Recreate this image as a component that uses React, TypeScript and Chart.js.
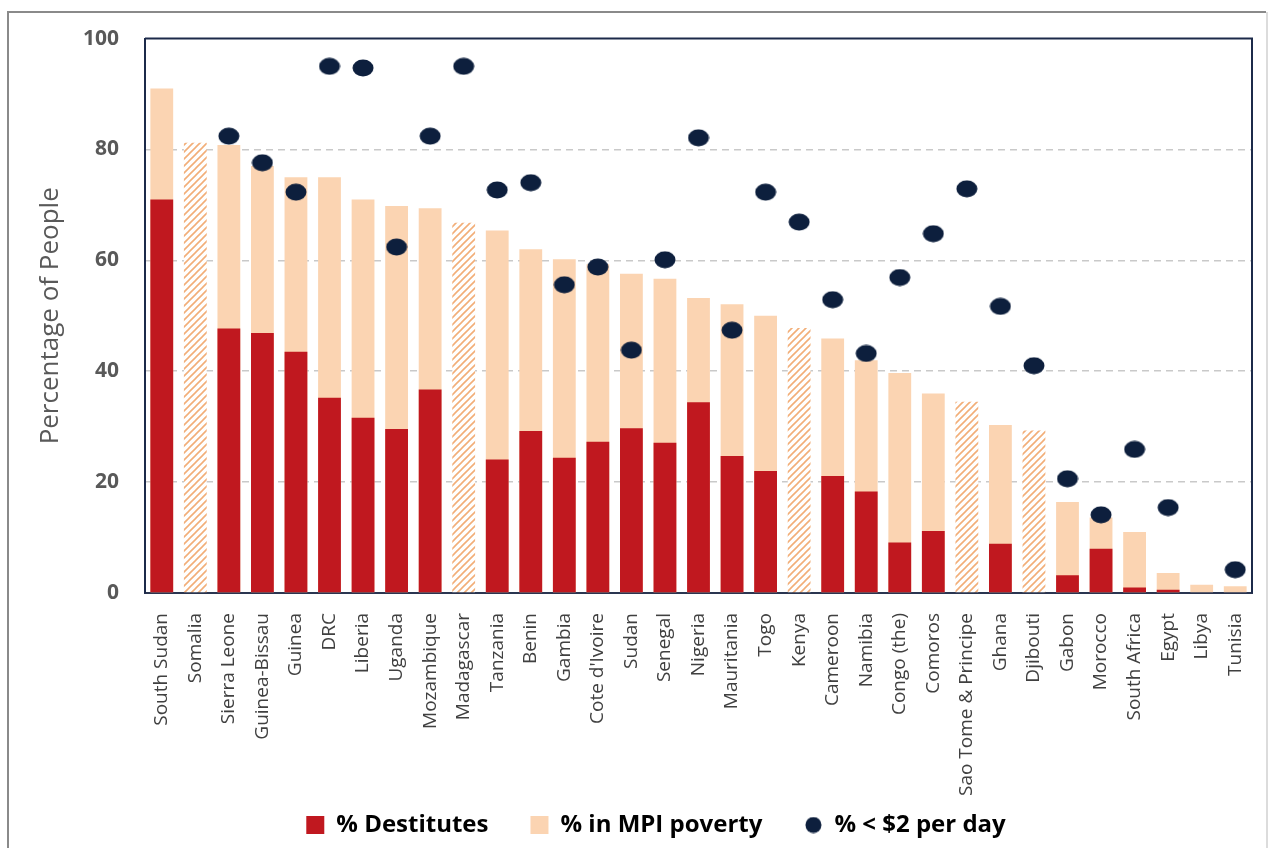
import React, { useEffect, useRef } from 'react';
import { Chart, registerables } from 'chart.js';

Chart.register(...registerables);

const categories = [
  'South Sudan', 'Somalia', 'Sierra Leone', 'Guinea-Bissau', 'Guinea', 'DRC', 'Liberia', 'Uganda',
  'Mozambique', 'Madagascar', 'Tanzania', 'Benin', 'Gambia', "Cote d'Ivoire", 'Sudan', 'Senegal',
  'Nigeria', 'Mauritania', 'Togo', 'Kenya', 'Cameroon', 'Namibia', 'Congo (the)', 'Comoros',
  'Sao Tome & Principe', 'Ghana', 'Djibouti', 'Gabon', 'Morocco', 'South Africa', 'Egypt', 'Libya', 'Tunisia',
];

const destitutes = [
  71.0, null, 47.7, 46.9, 43.5, 35.2, 31.6, 29.6, 36.7, null, 24.1, 29.2, 24.4, 27.3, 29.7, 27.1,
  34.4, 24.7, 22.0, null, 21.1, 18.3, 9.1, 11.2, null, 8.9, null, 3.2, 8.0, 1.0, 0.6, 0, 0,
];

const mpiPoverty = [
  91.0, 81.2, 80.8, 77.0, 75.0, 75.0, 71.0, 69.8, 69.4, 66.8, 65.4, 62.0, 60.2, 59.3, 57.6, 56.7,
  53.2, 52.1, 50.0, 47.8, 45.9, 42.0, 39.7, 36.0, 34.5, 30.3, 29.3, 16.4, 13.6, 11.0, 3.6, 1.5, 1.2,
];

const under2PerDay = [
  null, null, 82.4, 77.6, 72.3, 95.0, 94.7, 62.4, 82.4, 95.0, 72.7, 74.0, 55.6, 58.8, 43.8, 60.1,
  82.1, 47.4, 72.3, 66.9, 52.9, 43.2, 56.9, 64.8, 72.9, 51.7, 41.0, 20.6, 14.1, 25.9, 15.4, null, 4.2,
];

const hatchedCountries = ['Somalia', 'Madagascar', 'Kenya', 'Sao Tome & Principe', 'Djibouti'];

const yTickValues = [0, 20, 40, 60, 80, 100];

const seriesLabels = ['% Destitutes', '% in MPI poverty', '% < $2 per day'];

const RED = '#c0181f';
const PEACH = '#fbd4b2';
const STRIPE = '#f2ae78';
const NAVY = '#0d1f3d';
const FONT = "'Open Sans', sans-serif";

function makeHatch(): CanvasPattern {
  const c = document.createElement('canvas');
  c.width = 7;
  c.height = 7;
  const g = c.getContext('2d')!;
  g.fillStyle = '#ffffff';
  g.fillRect(0, 0, 7, 7);
  g.strokeStyle = STRIPE;
  g.lineWidth = 1.6;
  g.beginPath();
  g.moveTo(-1, 8);
  g.lineTo(8, -1);
  g.moveTo(-1, 1);
  g.lineTo(1, -1);
  g.moveTo(6, 8);
  g.lineTo(8, 6);
  g.stroke();
  return g.createPattern(c, 'repeat')!;
}

function makeDot(w: number, h: number): HTMLCanvasElement {
  const c = document.createElement('canvas');
  c.width = w;
  c.height = h;
  const g = c.getContext('2d')!;
  g.fillStyle = NAVY;
  g.beginPath();
  g.ellipse(w / 2, h / 2, w / 2 - 0.5, h / 2 - 0.5, 0, 0, Math.PI * 2);
  g.fill();
  return c;
}

const framePlugin = {
  id: 'frame',
  afterLayout(chart: any) {
    // let the rotated category labels use the space down to the legend
    const x = chart.scales.x;
    if (x) x.bottom = chart.height;
    const lg = chart.legend;
    if (lg) {
      lg.left += 15;
      lg.right += 15;
    }
  },
  beforeDraw(chart: any) {
    const { ctx } = chart;
    ctx.save();
    ctx.fillStyle = '#ffffff';
    ctx.fillRect(0, 0, chart.width, chart.height);
    ctx.strokeStyle = '#8a8a8a';
    ctx.lineWidth = 2;
    ctx.beginPath();
    ctx.moveTo(8, chart.height + 5);
    ctx.lineTo(8, 12);
    ctx.lineTo(1266, 12);
    ctx.stroke();
    ctx.strokeStyle = '#dcdcdc';
    ctx.beginPath();
    ctx.moveTo(1267, 12);
    ctx.lineTo(1267, chart.height + 5);
    ctx.stroke();
    ctx.restore();
  },
  afterDraw(chart: any) {
    const { ctx, chartArea: a } = chart;
    ctx.save();
    ctx.strokeStyle = '#1c2a4a';
    ctx.lineWidth = 2;
    ctx.beginPath();
    ctx.moveTo(a.left, a.top);
    ctx.lineTo(a.right, a.top);
    ctx.lineTo(a.right, a.bottom);
    ctx.stroke();
    ctx.restore();
  },
};

export default function App() {
  const canvasRef = useRef<HTMLCanvasElement | null>(null);

  useEffect(() => {
    if (!canvasRef.current) return;
    const hatch = makeHatch();
    const dot = makeDot(22, 18);
    const legendDot = makeDot(17, 17);
    const mpiColors = categories.map((c) => (hatchedCountries.includes(c) ? hatch : PEACH));

    const chart = new Chart(canvasRef.current, {
      type: 'bar',
      data: {
        labels: categories,
        datasets: [
          {
            type: 'line',
            label: seriesLabels[2],
            data: under2PerDay,
            showLine: false,
            pointStyle: dot as any,
            borderColor: NAVY,
            backgroundColor: NAVY,
            order: 0,
          } as any,
          {
            type: 'bar',
            label: seriesLabels[0],
            data: destitutes,
            backgroundColor: RED,
            barPercentage: 0.68,
            categoryPercentage: 1,
            order: 1,
          },
          {
            type: 'bar',
            label: seriesLabels[1],
            data: mpiPoverty,
            backgroundColor: mpiColors as any,
            barPercentage: 0.68,
            categoryPercentage: 1,
            order: 2,
          },
        ],
      },
      options: {
        responsive: true,
        maintainAspectRatio: false,
        animation: false,
        layout: { padding: { left: 30, top: 37, right: 20, bottom: 1 } },
        plugins: {
          tooltip: { enabled: false },
          legend: {
            position: 'bottom',
            labels: {
              usePointStyle: true,
              boxWidth: 18,
              boxHeight: 18,
              padding: 42,
              color: '#404040',
              font: { family: FONT, size: 24, weight: 'bold' },
              generateLabels: () => [
                { text: seriesLabels[0], fillStyle: RED, strokeStyle: RED, lineWidth: 0, pointStyle: 'rect', hidden: false, datasetIndex: 1 },
                { text: seriesLabels[1], fillStyle: PEACH, strokeStyle: PEACH, lineWidth: 0, pointStyle: 'rect', hidden: false, datasetIndex: 2 },
                { text: seriesLabels[2], fillStyle: NAVY, strokeStyle: NAVY, lineWidth: 0, pointStyle: legendDot as any, hidden: false, datasetIndex: 0 },
              ] as any,
            },
          },
        },
        scales: {
          x: {
            stacked: true,
            grid: { display: false },
            border: { display: true, color: '#2a3550', width: 2 },
            ticks: {
              autoSkip: false,
              maxRotation: 90,
              minRotation: 90,
              color: '#404040',
              padding: 12,
              font: { family: FONT, size: 19 },
            },
            afterFit: (s: any) => {
              s.height = 178;
            },
          },
          y: {
            stacked: false,
            min: 0,
            max: 100,
            afterBuildTicks: (s: any) => {
              s.ticks = yTickValues.map((v) => ({ value: v }));
            },
            ticks: {
              color: '#595959',
              padding: 26,
              font: { family: FONT, size: 21, weight: 'bold' },
            },
            grid: {
              drawTicks: false,
              lineWidth: 1.5,
              color: (c: any) => (c.tick && (c.tick.value === 0 || c.tick.value === 100) ? 'rgba(0,0,0,0)' : '#c9c9c9'),
            },
            border: { display: true, color: '#1c2a4a', width: 2, dash: [7, 5] },
            title: {
              display: true,
              text: 'Percentage of People',
              color: '#595959',
              font: { family: FONT, size: 26, lineHeight: 1.0 },
              padding: { top: 8, bottom: 0 },
            },
            afterFit: (s: any) => {
              s.width = 115;
            },
          },
        },
      },
      plugins: [framePlugin],
    });

    return () => chart.destroy();
  }, []);

  return (
    <div style={{ position: 'absolute', left: 0, top: 0, width: 1272, height: 848, background: '#fff' }}>
      <canvas ref={canvasRef} />
    </div>
  );
}
